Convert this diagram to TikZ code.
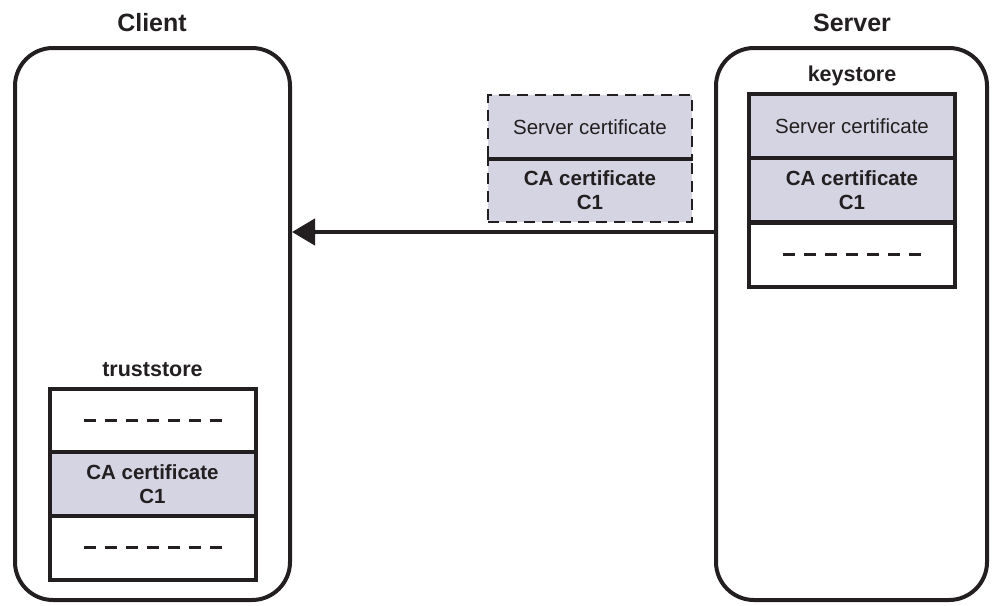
\documentclass[tikz,border=0pt]{standalone}
\usepackage{fontspec}
\setmainfont{Liberation Sans}
\usetikzlibrary{arrows.meta}
\definecolor{ink}{HTML}{231F20}
\definecolor{lav}{HTML}{D4D4E2}
\begin{document}
\begin{tikzpicture}[x=1pt,y=-1pt,
  bigbox/.style={draw=ink, line width=4pt, rounded corners=38pt, minimum width=#1, minimum height=552pt, inner sep=0pt},
  head/.style={font=\fontsize{25}{28}\selectfont\bfseries, text=ink},
  storelabel/.style={font=\fontsize{21.5}{24}\selectfont\bfseries, text=ink},
  cell/.style={draw=ink, line width=4pt, minimum width=206pt, minimum height=64pt, inner sep=0pt, align=center, text=ink},
  fillcell/.style={cell, fill=lav},
  certtxt/.style={font=\fontsize{20.5}{23}\selectfont},
  catxt/.style={font=\fontsize{20.5}{24}\selectfont\bfseries},
  dcell/.style={draw=ink, line width=2.6pt, dash pattern=on 11pt off 7pt, fill=lav, minimum width=204pt, minimum height=63.5pt, inner sep=0pt, align=center, text=ink},
  dashline/.style={draw=ink, line width=3pt, dash pattern=on 12pt off 9pt},
  arr/.style={draw=ink, line width=4.5pt, -{Triangle[length=23pt,width=26pt]}}
]
\useasboundingbox (0,0) rectangle (992,605);

% outer boxes
\node[bigbox=275pt] (client) at (152.5,324) {};
\node[bigbox=271pt] (server) at (851.5,324) {};
\node[head] (clientlbl) at (152,23) {Client};
\node[head] (serverlbl) at (852,23) {Server};

% keystore
\node[storelabel] (kslbl) at (852,76) {keystore};
\node[fillcell, certtxt] (ks1) at (852,126) {Server certificate};
\node[fillcell, catxt] (ks2) at (852,190) {CA certificate\\C1};
\node[cell] (ks3) at (852,254.5) {};
\draw[dashline] ([xshift=-69pt]ks3.center) -- ([xshift=69pt]ks3.center);

% message (dashed)
\node[dcell, certtxt] (dc1) at (590,126.75) {Server certificate};
\node[dcell, catxt] (dc2) at (590,190.25) {CA certificate\\C1};
\draw[ink, line width=2.6pt] (dc1.south west) -- (dc1.south east);

% truststore
\node[storelabel] (tslbl) at (152.5,370) {truststore};
\node[cell] (ts1) at (152.5,420.5) {};
\node[fillcell, catxt] (ts2) at (152.5,484) {CA certificate\\C1};
\node[cell] (ts3) at (152.5,547.5) {};
\draw[dashline] ([xshift=-69pt]ts1.center) -- ([xshift=69pt]ts1.center);
\draw[dashline] ([xshift=-69pt]ts3.center) -- ([xshift=69pt]ts3.center);

% arrow
\coordinate (arrowy) at (0,232);
\draw[arr] (server.west |- arrowy) -- (client.east |- arrowy);
\end{tikzpicture}
\end{document}
